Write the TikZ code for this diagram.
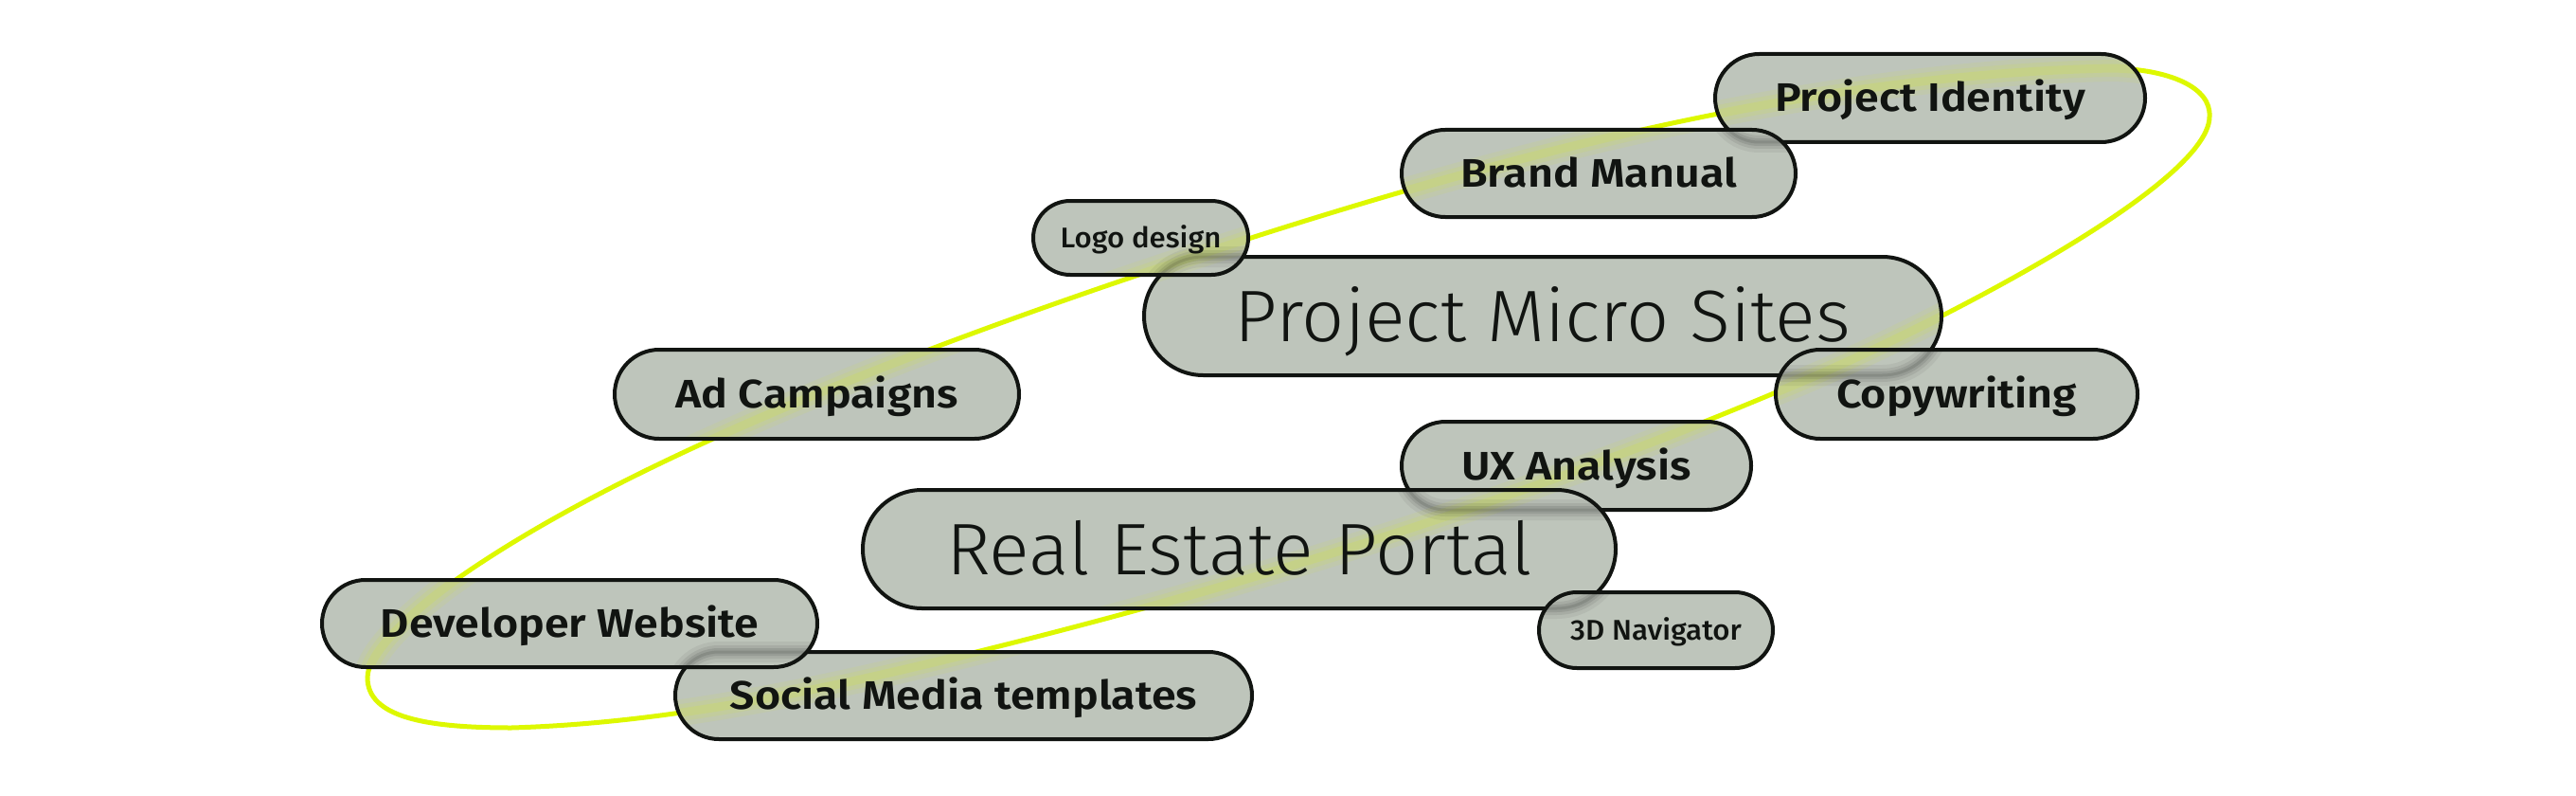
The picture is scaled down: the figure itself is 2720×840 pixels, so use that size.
\documentclass[tikz,border=0pt]{standalone}
\usepackage{fontspec}
\setmainfont{Fira Sans}
\newfontfamily\lightface{Fira Sans Light}[FakeStretch=1.03]
\newfontfamily\mediumface{Fira Sans SemiBold}[FakeStretch=1.11]
\newfontfamily\smallface{Fira Sans Medium}[FakeStretch=1.04]

\definecolor{pillgrey}{RGB}{190,197,187}
\definecolor{loopyellow}{RGB}{221,248,0}
\definecolor{inkblack}{RGB}{17,20,17}

\tikzset{
    loopline/.style={draw=loopyellow, line width=5pt},
    pillfill/.style={fill=pillgrey},
    pillline/.style={draw=inkblack, line width=4pt},
    bigtext/.style={font=\lightface\fontsize{77}{80}\selectfont, text=inkblack, inner sep=0pt, text height=53pt, text depth=0pt},
    midtext/.style={font=\mediumface\fontsize{42}{46}\selectfont, text=inkblack, inner sep=0pt, text height=29pt, text depth=0pt},
    smalltext/.style={font=\smallface\fontsize{30}{34}\selectfont, text=inkblack, inner sep=0pt, text height=21pt, text depth=0pt},
}

% pill: name, x, y, width, height, text style, text, extra code inside the pill
\newcommand{\pill}[8]{%
    \pgfmathsetmacro{\pxl}{#2-#4/2}
    \pgfmathsetmacro{\pxr}{#2+#4/2}
    \pgfmathsetmacro{\pyt}{#3-#5/2}
    \pgfmathsetmacro{\pyb}{#3+#5/2}
    \pgfmathsetmacro{\prad}{#5/2-0.01}
    \coordinate (#1-nw) at (\pxl,\pyt);
    \coordinate (#1-se) at (\pxr,\pyb);
    \fill[pillfill, rounded corners=\prad pt] (#1-nw) rectangle (#1-se);
    \begin{scope}
        \clip[rounded corners=\prad pt] (#1-nw) rectangle (#1-se);
        % blurred loop seen through the pill
        \foreach \lw/\op in {28/0.07, 18/0.09, 9/0.13}
            \draw[loopyellow, line width=\lw pt, opacity=\op] \loopcurve;
        #8
    \end{scope}
    \draw[pillline, rounded corners=\prad pt] (#1-nw) rectangle (#1-se);
    \node[#6] (#1) at (#2,#3) {#7};
}

% blurred outline of a pill lying under another one
\newcommand{\smudge}[2]{%
    \foreach \lw/\op in {22/0.05, 14/0.07, 8/0.09, 3/0.1}
        \draw[black, line width=\lw pt, opacity=\op, rounded corners=#2pt] (#1-nw) rectangle (#1-se);
}

\begin{document}
\begin{tikzpicture}[x=1pt, y=-1pt]

    \useasboundingbox (0,0) rectangle (2720,840);

    %%%%%%%%%%%%%%%%%%%%%%%%%%
    % yellow loop
    %%%%%%%%%%%%%%%%%%%%%%%%%%
    \def\loopcurve{(2230,72) .. controls (2290,73) and (2335,92) .. (2333,123)
        .. controls (2333,200) and (2000,365) .. (1873,415)
        .. controls (1596,531) and (1320,616) .. (1043,685)
        .. controls (875,727) and (708,763) .. (540,768)
        .. controls (450,768) and (388,757) .. (388,715)
        .. controls (388,690) and (434,645) .. (484,610)
        .. controls (684,470) and (1038,342) .. (1318,252)
        .. controls (1618,156) and (1930,78) .. (2230,72) -- cycle}
    \draw[loopline] \loopcurve;

    %%%%%%%%%%%%%%%%%%%%%%%%%%
    % pills
    %%%%%%%%%%%%%%%%%%%%%%%%%%
    \pill{identity}{2038}{103.5}{454}{93}{midtext}{Project Identity}{}
    \pill{brand}{1688}{183}{416}{92}{midtext}{Brand Manual}{\smudge{identity}{46.4}}

    \pill{micro}{1629}{333.5}{842}{125}{bigtext}{Project Micro Sites}{}
    \pill{logo}{1204.5}{251}{227}{78}{smalltext}{Logo design}{\smudge{micro}{62.4}}
    \pill{copy}{2066}{416}{382}{94}{midtext}{Copywriting}{\smudge{micro}{62.4}}

    \pill{ad}{862.5}{416}{427}{94}{midtext}{Ad Campaigns}{}

    \pill{ux}{1664.5}{491.5}{369}{93}{midtext}{UX Analysis}{}
    \pill{portal}{1308.5}{579.5}{795}{125}{bigtext}{Real Estate Portal}{\smudge{ux}{46.4}}
    \pill{navigator}{1748.5}{665}{247}{80}{smalltext}{3D Navigator}{\smudge{portal}{62.4}}

    \pill{social}{1017.5}{734}{609}{92}{midtext}{Social Media templates}{}
    \pill{developer}{601.5}{658}{523}{92}{midtext}{Developer Website}{\smudge{social}{45.9}}

\end{tikzpicture}
\end{document}
